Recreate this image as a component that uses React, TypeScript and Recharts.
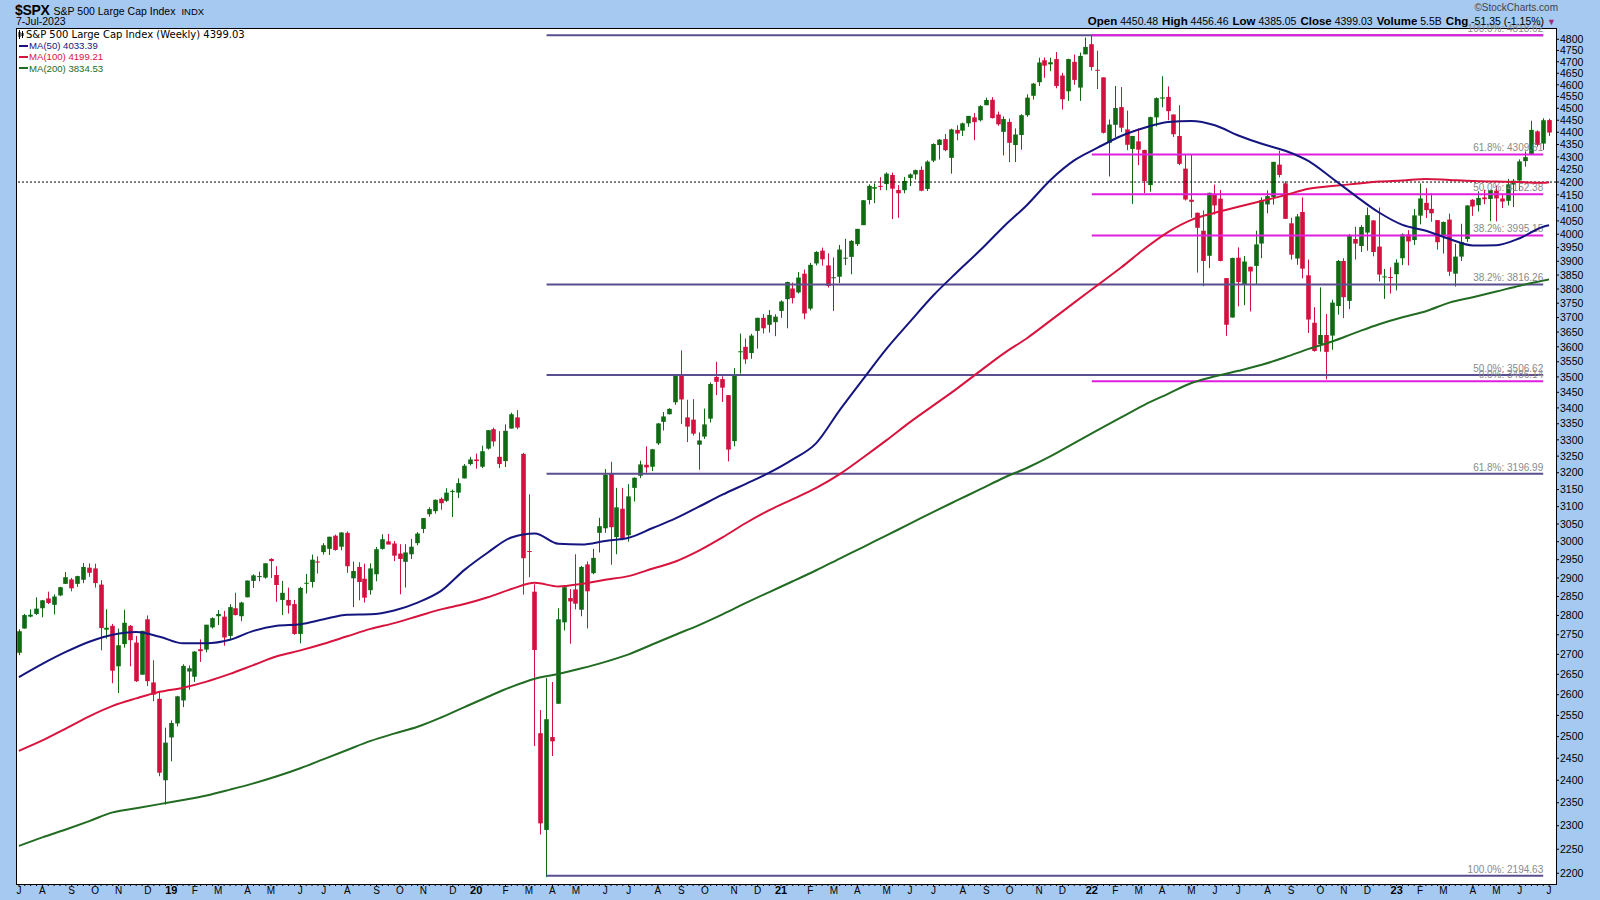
import React from 'react'
import { ComposedChart, Bar, Line, XAxis, YAxis, ReferenceLine } from 'recharts'

// first Friday on the chart, one candle per week after it
const FIRST_WEEK = [2018, 6, 6]

// weekly candles, [open, high, low, close]
const W2018 = [
  [2704, 2764, 2698, 2759], [2766, 2804, 2766, 2801], [2797, 2816, 2795, 2802], [2804, 2848, 2801, 2818],
  [2819, 2841, 2795, 2840], [2845, 2863, 2830, 2833], [2828, 2856, 2803, 2850], [2853, 2876, 2851, 2875],
  [2884, 2916, 2884, 2902], [2896, 2900, 2864, 2872], [2884, 2906, 2876, 2905], [2895, 2941, 2886, 2930],
  [2928, 2940, 2903, 2914], [2926, 2939, 2874, 2886], [2882, 2894, 2710, 2767], [2763, 2816, 2740, 2768],
  [2773, 2778, 2628, 2659], [2670, 2766, 2604, 2723], [2726, 2815, 2717, 2781], [2773, 2775, 2670, 2736],
  [2730, 2747, 2631, 2633], [2649, 2760, 2649, 2760], [2790, 2800, 2621, 2633], [2630, 2685, 2584, 2600],
  [2590, 2607, 2409, 2417], [2400, 2521, 2346, 2486],
]
const W2019 = [
  [2498, 2538, 2443, 2532], [2531, 2597, 2524, 2596], [2586, 2675, 2570, 2671], [2657, 2672, 2612, 2665],
  [2644, 2708, 2631, 2707], [2713, 2738, 2681, 2708], [2712, 2775, 2705, 2776], [2769, 2795, 2766, 2793],
  [2798, 2814, 2775, 2804], [2797, 2812, 2722, 2743], [2747, 2830, 2739, 2822], [2819, 2860, 2800, 2801],
  [2798, 2836, 2785, 2834], [2848, 2893, 2848, 2893], [2892, 2910, 2873, 2907], [2904, 2917, 2891, 2905],
  [2901, 2940, 2898, 2940], [2952, 2954, 2900, 2946], [2908, 2932, 2836, 2881], [2841, 2892, 2801, 2860],
  [2841, 2874, 2805, 2826], [2830, 2841, 2750, 2752], [2752, 2876, 2728, 2873], [2886, 2911, 2858, 2887],
  [2889, 2964, 2874, 2950], [2945, 2959, 2912, 2942], [2971, 2996, 2964, 2990], [2980, 3014, 2963, 3014],
  [3017, 3020, 2975, 2977], [2986, 3027, 2976, 3026], [3025, 3029, 2914, 2932], [2899, 2945, 2822, 2919],
  [2930, 2943, 2840, 2889], [2898, 2939, 2834, 2847], [2867, 2940, 2855, 2926], [2910, 2985, 2891, 2979],
  [2980, 3021, 2978, 3007], [3001, 3022, 2993, 2992], [2995, 3002, 2946, 2961], [2967, 2993, 2856, 2952],
  [2944, 2993, 2874, 2970], [2965, 3008, 2952, 2986], [2996, 3027, 2990, 3023], [3036, 3067, 3024, 3067],
  [3078, 3098, 3071, 3093], [3087, 3121, 3080, 3120], [3123, 3127, 3091, 3110], [3117, 3154, 3114, 3141],
  [3144, 3150, 3070, 3146], [3141, 3183, 3125, 3169], [3183, 3226, 3183, 3221], [3226, 3248, 3222, 3240],
]
const W2020 = [
  [3240, 3258, 3212, 3235], [3218, 3282, 3214, 3265], [3273, 3330, 3270, 3330], [3333, 3338, 3280, 3295],
  [3248, 3327, 3214, 3226], [3235, 3348, 3217, 3328], [3335, 3385, 3335, 3380], [3370, 3393, 3333, 3338],
  [3257, 3260, 2855, 2954], [2974, 3136, 2902, 2972], [2863, 2883, 2478, 2711], [2508, 2563, 2281, 2305],
  [2291, 2641, 2192, 2541], [2499, 2631, 2455, 2489], [2578, 2819, 2578, 2790], [2782, 2880, 2761, 2875],
  [2846, 2870, 2727, 2837], [2869, 2965, 2816, 2831], [2815, 2933, 2798, 2930], [2937, 2945, 2766, 2864],
  [2913, 2980, 2910, 2955], [3025, 3068, 2970, 3044], [3038, 3211, 3025, 3194], [3199, 3233, 2936, 3041],
  [3013, 3155, 2965, 3098], [3094, 3155, 3004, 3009], [3018, 3166, 3000, 3130], [3155, 3186, 3115, 3185],
  [3191, 3236, 3184, 3225], [3224, 3280, 3200, 3216], [3218, 3272, 3205, 3271], [3289, 3352, 3284, 3351],
  [3356, 3387, 3329, 3373], [3380, 3399, 3379, 3397], [3418, 3509, 3410, 3508], [3507, 3588, 3349, 3427],
  [3370, 3426, 3293, 3341], [3363, 3428, 3313, 3319], [3285, 3323, 3209, 3298], [3310, 3398, 3303, 3348],
  [3366, 3482, 3354, 3477], [3500, 3550, 3441, 3484], [3493, 3502, 3419, 3465], [3441, 3441, 3234, 3270],
  [3296, 3529, 3280, 3509], [3583, 3645, 3511, 3585], [3600, 3628, 3543, 3558], [3579, 3644, 3560, 3638],
  [3654, 3699, 3594, 3699], [3699, 3712, 3645, 3663], [3675, 3726, 3648, 3709], [3684, 3711, 3636, 3703],
  [3723, 3760, 3699, 3756],
]
const W2021 = [
  [3764, 3826, 3663, 3825], [3802, 3823, 3749, 3768], [3788, 3861, 3784, 3841], [3855, 3870, 3694, 3714],
  [3731, 3894, 3725, 3887], [3892, 3937, 3885, 3934], [3939, 3950, 3884, 3907], [3885, 3929, 3805, 3811],
  [3842, 3914, 3723, 3842], [3844, 3960, 3821, 3943], [3913, 3983, 3886, 3913], [3916, 3978, 3853, 3975],
  [3963, 4020, 3956, 4020], [4034, 4130, 4034, 4129], [4130, 4191, 4113, 4185], [4174, 4195, 4118, 4180],
  [4185, 4219, 4168, 4181], [4192, 4238, 4168, 4233], [4228, 4237, 4057, 4174], [4169, 4188, 4062, 4156],
  [4168, 4220, 4156, 4204], [4216, 4234, 4184, 4230], [4230, 4249, 4210, 4247], [4248, 4262, 4164, 4166],
  [4173, 4286, 4165, 4281], [4285, 4355, 4279, 4352], [4348, 4372, 4289, 4370], [4372, 4393, 4323, 4327],
  [4296, 4415, 4233, 4412], [4410, 4429, 4367, 4395], [4407, 4440, 4385, 4437], [4437, 4468, 4423, 4468],
  [4462, 4480, 4368, 4442], [4450, 4513, 4445, 4509], [4513, 4545, 4513, 4535], [4536, 4547, 4457, 4459],
  [4474, 4486, 4427, 4433], [4402, 4466, 4306, 4455], [4443, 4457, 4279, 4357], [4348, 4416, 4279, 4391],
  [4389, 4475, 4329, 4471], [4471, 4559, 4464, 4545], [4553, 4608, 4537, 4605], [4611, 4718, 4595, 4697],
  [4707, 4719, 4630, 4683], [4689, 4718, 4659, 4698], [4712, 4743, 4585, 4595], [4640, 4652, 4495, 4538],
  [4572, 4713, 4531, 4712], [4700, 4732, 4600, 4621], [4588, 4741, 4531, 4726], [4733, 4808, 4733, 4766],
]
const W2022 = [
  [4778, 4818.62, 4662, 4677], [4665, 4749, 4582, 4663], [4632, 4632, 4395, 4398], [4357, 4453, 4222, 4432],
  [4431, 4595, 4380, 4501], [4505, 4590, 4401, 4419], [4412, 4490, 4327, 4349], [4332, 4385, 4115, 4385],
  [4363, 4416, 4267, 4329], [4328, 4329, 4157, 4204], [4188, 4465, 4162, 4463], [4462, 4546, 4424, 4543],
  [4541, 4637, 4504, 4546], [4548, 4593, 4450, 4488], [4474, 4474, 4381, 4392], [4385, 4513, 4267, 4272],
  [4253, 4309, 4128, 4132], [4131, 4308, 4062, 4123], [4081, 4082, 3859, 4024], [4013, 4090, 3810, 3901],
  [3920, 4158, 3875, 4158], [4151, 4190, 4074, 4109], [4135, 4169, 3900, 3901], [3839, 3839, 3637, 3675],
  [3700, 3913, 3700, 3912], [3913, 3951, 3739, 3825], [3815, 3919, 3743, 3899], [3880, 3880, 3721, 3863],
  [3883, 4013, 3818, 3962], [3965, 4140, 3911, 4130], [4113, 4167, 4079, 4145], [4142, 4280, 4112, 4280],
  [4269, 4325, 4218, 4228], [4195, 4203, 4057, 4058], [4041, 4062, 3906, 3924], [3910, 4076, 3887, 4067],
  [4084, 4140, 3838, 3873], [3849, 3906, 3647, 3693], [3682, 3736, 3584, 3586], [3609, 3806, 3584, 3640],
  [3640, 3712, 3492, 3583], [3638, 3762, 3590, 3752], [3740, 3905, 3710, 3901], [3901, 3911, 3698, 3771],
  [3758, 4001, 3729, 3993], [3982, 4028, 3906, 3965], [3956, 4034, 3934, 4027], [4006, 4101, 3939, 4072],
  [4052, 4052, 3918, 3934], [3954, 4101, 3827, 3852], [3845, 3872, 3765, 3845], [3843, 3878, 3784, 3840],
]
const W2023 = [
  [3853, 3907, 3795, 3895], [3911, 4003, 3886, 3999], [3999, 4015, 3885, 3973], [3978, 4095, 3960, 4071],
  [4070, 4195, 4037, 4136], [4119, 4176, 4061, 4091], [4096, 4156, 4047, 4079], [4053, 4053, 3943, 3970],
  [3992, 4048, 3928, 4046], [4055, 4078, 3847, 3862], [3855, 3964, 3809, 3917], [3917, 4039, 3901, 3971],
  [3982, 4110, 3971, 4109], [4131, 4133, 4069, 4105], [4110, 4164, 4086, 4138], [4140, 4170, 4114, 4133],
  [4134, 4170, 4049, 4169], [4166, 4186, 4048, 4136], [4136, 4155, 4099, 4124], [4127, 4212, 4109, 4191],
  [4190, 4212, 4103, 4205], [4206, 4290, 4166, 4282], [4283, 4322, 4261, 4299], [4310, 4448, 4308, 4410],
  [4404, 4408, 4341, 4348], [4354, 4458, 4328, 4450], [4450.48, 4456.46, 4385.05, 4399.03],
]

// moving averages every 4th week; the last value is the final week
const MA_STEP = 4
const MA50 = [
  2643, 2676, 2706, 2732, 2750, 2757, 2745, 2728, 2728, 2737, 2760, 2773, 2777, 2790, 2802, 2803, 2813,
  2834, 2865, 2922, 2970, 3012, 3023, 2994, 2992, 3002, 3011, 3038, 3066, 3100, 3135, 3167, 3200, 3240,
  3290, 3393, 3493, 3594, 3686, 3778, 3860, 3941, 4029, 4112, 4209, 4286, 4337, 4385, 4419, 4443, 4447,
  4429, 4387, 4353, 4325, 4283, 4215, 4146, 4082, 4035, 4013, 3982, 3958, 3959, 3985, 4028, 4033.39,
]
const MA100 = [
  2467, 2491, 2519, 2548, 2573, 2591, 2607, 2617, 2632, 2651, 2673, 2695, 2710, 2727, 2746, 2765, 2780,
  2798, 2816, 2830, 2848, 2870, 2887, 2877, 2884, 2895, 2905, 2925, 2945, 2975, 3012, 3053, 3090, 3122,
  3155, 3196, 3246, 3299, 3355, 3408, 3462, 3520, 3578, 3630, 3690, 3752, 3814, 3877, 3946, 4008, 4054,
  4081, 4104, 4126, 4149, 4174, 4184, 4193, 4202, 4206, 4212, 4208, 4204, 4202, 4200, 4197, 4199.21,
]
const MA200 = [
  2257, 2275, 2292, 2310, 2329, 2338, 2347, 2356, 2366, 2379, 2393, 2409, 2427, 2448, 2469, 2490, 2507,
  2523, 2545, 2570, 2595, 2619, 2639, 2651, 2665, 2681, 2700, 2725, 2750, 2775, 2803, 2833, 2862, 2891,
  2921, 2953, 2985, 3018, 3051, 3085, 3118, 3151, 3185, 3215, 3250, 3290, 3330, 3370, 3410, 3445, 3480,
  3502, 3520, 3540, 3565, 3593, 3618, 3648, 3677, 3701, 3722, 3752, 3771, 3791, 3812, 3830, 3834.53,
]

const Y_TICKS = [
  2200, 2250, 2300, 2350, 2400, 2450, 2500, 2550, 2600, 2650, 2700, 2750, 2800, 2850, 2900, 2950,
  3000, 3050, 3100, 3150, 3200, 3250, 3300, 3350, 3400, 3450, 3500, 3550, 3600, 3650, 3700, 3750,
  3800, 3850, 3900, 3950, 4000, 4050, 4100, 4150, 4200, 4250, 4300, 4350, 4400, 4450, 4500, 4550,
  4600, 4650, 4700, 4750, 4800,
]
const MONTHS = ['J', 'F', 'M', 'A', 'M', 'J', 'J', 'A', 'S', 'O', 'N', 'D']

// retracement from the Mar-2020 low to the Jan-2022 high
const NAVY_FROM = '2020-03-27'
const NAVY_LEVELS = [4818.62, 3816.26, 3506.62, 3196.99, 2194.63]
const NAVY_TEXT = ['', '38.2%: 3816.26', '50.0%: 3506.62', '61.8%: 3196.99', '100.0%: 2194.63']
// retracement from the Jan-2022 high to the Oct-2022 low
const PINK_FROM = '2022-01-07'
const PINK_LEVELS = [4818.62, 4309.61, 4152.38, 3995.15, 3486.14]
const PINK_TEXT = ['100.0%: 4818.62', '61.8%: 4309.61', '50.0%: 4152.38', '38.2%: 3995.15', '0.0%: 3486.14']
const FIB_TO = '2023-06-30'
const DOTTED_LEVEL = 4200

const BLUE_BG = '#a6c9f1'
const UP = '#0f6a12'
const DOWN = '#d3103f'
const C50 = '#15157f'
const C100 = '#d8143e'
const C200 = '#226b22'
const NAVY = '#5a4e8e'
const PINK = '#e01ee0'
const FONT = '"Liberation Sans", Arial, sans-serif'

const candles = [...W2018, ...W2019, ...W2020, ...W2021, ...W2022, ...W2023]

const weekDate = (i: number) =>
  new Date(Date.UTC(FIRST_WEEK[0], FIRST_WEEK[1], FIRST_WEEK[2] + 7 * i)).toISOString().slice(0, 10)

const maAt = (arr: number[], i: number) => {
  if (i === candles.length - 1) return arr[arr.length - 1]
  if (i % MA_STEP === 0 && i / MA_STEP < arr.length - 1) return arr[i / MA_STEP]
  return null
}

const data = candles.map(([o, h, l, c], i) => ({
  d: weekDate(i),
  o, h, l, c,
  range: [l, h],
  ma50: maAt(MA50, i),
  ma100: maAt(MA100, i),
  ma200: maAt(MA200, i),
}))

const monthLabel: Record<string, { text: string; bold: boolean }> = {}
data.forEach((row, i) => {
  const m = Number(row.d.slice(5, 7)) - 1
  const prev = i > 0 ? Number(data[i - 1].d.slice(5, 7)) - 1 : -1
  if (m !== prev) {
    monthLabel[row.d] = m === 0 ? { text: row.d.slice(2, 4), bold: true } : { text: MONTHS[m], bold: false }
  }
})

function Candle(props: any) {
  const { x, y, width, height, payload } = props
  if (!payload || !isFinite(y) || !isFinite(height)) return null
  const top = Math.min(y, y + height)
  const bot = Math.max(y, y + height)
  const lh = Math.log(payload.h)
  const span = lh - Math.log(payload.l)
  const py = (v: number) => (span > 0 ? top + ((bot - top) * (lh - Math.log(v))) / span : top)
  const color = payload.c >= payload.o ? UP : DOWN
  const cx = Math.round(x + width / 2) + 0.5
  const yo = py(payload.o)
  const yc = py(payload.c)
  return (
    <g>
      <line x1={cx} x2={cx} y1={top} y2={bot} stroke={color} strokeWidth={1} />
      <rect x={cx - 2.3} y={Math.min(yo, yc)} width={4.6} height={Math.max(Math.abs(yo - yc), 1)} fill={color} />
    </g>
  )
}

function MonthTick(props: any) {
  const { x, y, payload } = props
  const lab = monthLabel[payload.value]
  return (
    <g>
      <line x1={x} x2={x} y1={y} y2={y + 2} stroke="#000" strokeWidth={1} />
      {lab && (
        <text x={x} y={y + 10} textAnchor="middle" fontSize={lab.bold ? 11 : 10}
          fontWeight={lab.bold ? 'bold' : 'normal'} fontFamily={FONT} fill="#000">
          {lab.text}
        </text>
      )}
    </g>
  )
}

function FibLabel(props: any) {
  const vb = props.viewBox
  if (!vb || !props.text) return null
  return (
    <text x={vb.x + vb.width} y={vb.y - 3} textAnchor="end" fontSize={10} fontFamily={FONT} fill="#8a8a8a">
      {props.text}
    </text>
  )
}

const maLegend = [
  { name: 'MA(50) 4033.39', color: C50 },
  { name: 'MA(100) 4199.21', color: C100 },
  { name: 'MA(200) 3834.53', color: C200 },
]

const hdrLabel = { fontSize: 11.5, fontWeight: 'bold' as const, marginLeft: 4 }

export default function App() {
  return (
    <div style={{ position: 'absolute', left: 0, top: 0, width: 1600, height: 900, background: BLUE_BG, fontFamily: FONT, overflow: 'hidden' }}>
      <div style={{ position: 'absolute', left: 16, top: 28, width: 1541, height: 857, background: '#fff', border: '1px solid #000', boxSizing: 'border-box' }} />

      <div style={{ position: 'absolute', left: 0, top: 0 }}>
        <ComposedChart width={1600} height={900} data={data} margin={{ top: 28, right: 0, bottom: 0, left: 16 }}>
          <XAxis dataKey="d" interval={0} tick={<MonthTick />} tickLine={false} axisLine={false}
            tickSize={0} tickMargin={0} height={16} padding={{ left: 0, right: 4 }} />
          <YAxis orientation="right" scale="log" domain={[2178, 4851]} allowDataOverflow ticks={Y_TICKS} interval={0}
            width={44} axisLine={false} tickSize={3} tickMargin={1} tickLine={{ stroke: '#000' }}
            tick={{ fontSize: 10.5, fill: '#000', fontFamily: FONT }} />
          <ReferenceLine y={DOTTED_LEVEL} stroke="#000" strokeDasharray="2 2" strokeWidth={1} />
          {NAVY_LEVELS.map((v, i) => (
            <ReferenceLine key={'n' + i} segment={[{ x: NAVY_FROM, y: v }, { x: FIB_TO, y: v }]}
              stroke={NAVY} strokeWidth={2} label={<FibLabel text={NAVY_TEXT[i]} />} />
          ))}
          {PINK_LEVELS.map((v, i) => (
            <ReferenceLine key={'p' + i} segment={[{ x: PINK_FROM, y: v }, { x: FIB_TO, y: v }]}
              stroke={PINK} strokeWidth={2} label={<FibLabel text={PINK_TEXT[i]} />} />
          ))}
          <Line dataKey="ma200" stroke={C200} strokeWidth={2} dot={false} connectNulls type="monotone" isAnimationActive={false} />
          <Line dataKey="ma100" stroke={C100} strokeWidth={2} dot={false} connectNulls type="monotone" isAnimationActive={false} />
          <Line dataKey="ma50" stroke={C50} strokeWidth={2} dot={false} connectNulls type="monotone" isAnimationActive={false} />
          <Bar dataKey="range" barSize={5} shape={<Candle />} isAnimationActive={false} />
        </ComposedChart>
      </div>

      {/* header */}
      <div style={{ position: 'absolute', left: 15, top: 2, whiteSpace: 'nowrap', color: '#000', display: 'flex', alignItems: 'baseline' }}>
        <span style={{ fontSize: 14, fontWeight: 'bold', letterSpacing: -0.3 }}>$SPX</span>
        <span style={{ fontSize: 10.5, marginLeft: 4 }}>S&amp;P 500 Large Cap Index</span>
        <span style={{ fontSize: 9.5, marginLeft: 6 }}>INDX</span>
      </div>
      <div style={{ position: 'absolute', left: 16, top: 15, fontSize: 10.5, color: '#000' }}>7-Jul-2023</div>
      <div style={{ position: 'absolute', right: 42, top: 2, fontSize: 10, color: '#444' }}>&#169;StockCharts.com</div>
      <div style={{ position: 'absolute', right: 44, top: 15, whiteSpace: 'nowrap', color: '#000', fontSize: 10.5 }}>
        <b style={{ ...hdrLabel, marginLeft: 0 }}>Open</b> 4450.48
        <b style={hdrLabel}>High</b> 4456.46
        <b style={hdrLabel}>Low</b> 4385.05
        <b style={hdrLabel}>Close</b> 4399.03
        <b style={hdrLabel}>Volume</b> 5.5B
        <b style={hdrLabel}>Chg</b> -51.35 (-1.15%)
        <span style={{ color: '#a8287a', fontSize: 9, marginLeft: 3 }}>&#9660;</span>
      </div>

      {/* legend */}
      <div style={{ position: 'absolute', left: 18, top: 29, whiteSpace: 'nowrap', fontFamily: '"DejaVu Sans", Verdana, sans-serif', fontSize: 10, color: '#000', display: 'flex', alignItems: 'center' }}>
        <svg width={6} height={9} style={{ marginRight: 2 }}>
          <line x1={1.5} x2={1.5} y1={0} y2={9} stroke="#000" />
          <rect x={0.5} y={2} width={2} height={5} fill="#000" />
          <line x1={4.5} x2={4.5} y1={1} y2={8} stroke="#000" />
          <rect x={3.5} y={3} width={2} height={3} fill="#000" />
        </svg>
        S&amp;P 500 Large Cap Index (Weekly) 4399.03
      </div>
      {maLegend.map((m, i) => (
        <div key={m.name} style={{ position: 'absolute', left: 19, top: 40 + i * 11.3, whiteSpace: 'nowrap', fontSize: 9.6, color: m.color, display: 'flex', alignItems: 'center' }}>
          <span style={{ display: 'inline-block', width: 9, height: 2, background: m.color, marginRight: 1 }} />
          {m.name}
        </div>
      ))}
    </div>
  )
}
